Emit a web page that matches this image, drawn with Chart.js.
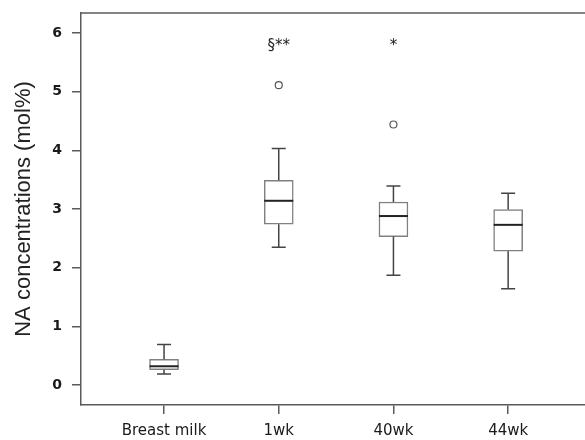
<!DOCTYPE html>
<html>
<head>
<meta charset="utf-8">
<script src="https://cdn.jsdelivr.net/npm/chart.js@4/dist/chart.umd.min.js"></script>
<style>
  html, body { margin: 0; padding: 0; background: #fff; }
  #wrap { width: 585px; height: 440px; }
</style>
</head>
<body>
<div id="wrap"><canvas id="boxChart"></canvas></div>
<script>
// groups along the x axis
const categories = ['Breast milk', '1wk', '40wk', '44wk'];
const catPos = [1, 2, 3, 4];

// box plot summary values (mol%)
const whiskerLow = [0.19, 2.35, 1.87, 1.64];
const q1 = [0.26, 2.74, 2.53, 2.28];
const median = [0.32, 3.14, 2.88, 2.73];
const q3 = [0.44, 3.49, 3.12, 2.99];
const whiskerHigh = [0.69, 4.03, 3.39, 3.27];

// outliers
const outlierPos = [2, 3];
const outlierVal = [5.11, 4.44];

// significance marks above groups
const markText = ['', '§**', '*', ''];
const markVal = 5.78;

const yTicks = [0, 1, 2, 3, 4, 5, 6];

const axisColor = '#5a5a5a';

// draws whiskers, caps, medians and marks using the chart scales
const boxExtras = {
  id: 'boxExtras',
  afterDatasetsDraw(chart) {
    const ctx = chart.ctx;
    const xs = chart.scales.x;
    const ys = chart.scales.y;
    const capHalf = 7;
    const boxHalf = 14.5;
    ctx.save();
    catPos.forEach((p, i) => {
      const cx = xs.getPixelForValue(p);
      ctx.strokeStyle = '#444';
      ctx.lineWidth = 1.5;
      ctx.beginPath();
      ctx.moveTo(cx, ys.getPixelForValue(q3[i]));
      ctx.lineTo(cx, ys.getPixelForValue(whiskerHigh[i]));
      ctx.moveTo(cx, ys.getPixelForValue(q1[i]));
      ctx.lineTo(cx, ys.getPixelForValue(whiskerLow[i]));
      ctx.moveTo(cx - capHalf, ys.getPixelForValue(whiskerHigh[i]));
      ctx.lineTo(cx + capHalf, ys.getPixelForValue(whiskerHigh[i]));
      ctx.moveTo(cx - capHalf, ys.getPixelForValue(whiskerLow[i]));
      ctx.lineTo(cx + capHalf, ys.getPixelForValue(whiskerLow[i]));
      ctx.stroke();

      ctx.strokeStyle = '#222';
      ctx.lineWidth = 2;
      ctx.beginPath();
      ctx.moveTo(cx - boxHalf, ys.getPixelForValue(median[i]));
      ctx.lineTo(cx + boxHalf, ys.getPixelForValue(median[i]));
      ctx.stroke();

      if (markText[i]) {
        ctx.fillStyle = '#222';
        ctx.font = '15px "DejaVu Sans"';
        ctx.textAlign = 'center';
        ctx.textBaseline = 'middle';
        ctx.fillText(markText[i], cx, ys.getPixelForValue(markVal));
      }
    });
    // top frame line
    const a = chart.chartArea;
    ctx.strokeStyle = axisColor;
    ctx.lineWidth = 1.5;
    ctx.beginPath();
    ctx.moveTo(a.left, a.top);
    ctx.lineTo(a.right, a.top);
    ctx.stroke();
    ctx.restore();
  }
};

new Chart(document.getElementById('boxChart'), {
  type: 'bar',
  data: {
    datasets: [{
      label: 'IQR',
      data: catPos.map((p, i) => ({ x: p, y: [q1[i], q3[i]] })),
      backgroundColor: '#ffffff',
      borderColor: '#808080',
      borderWidth: 1.5,
      borderSkipped: false,
      barThickness: 29
    }, {
      type: 'scatter',
      label: 'Outliers',
      data: outlierPos.map((p, i) => ({ x: p, y: outlierVal[i] })),
      backgroundColor: '#ffffff',
      borderColor: '#555',
      borderWidth: 1.2,
      pointRadius: 3.5
    }]
  },
  options: {
    responsive: true,
    maintainAspectRatio: false,
    animation: false,
    layout: { autoPadding: false, padding: { top: 13, right: 0, left: 0, bottom: 0 } },
    plugins: {
      legend: { display: false },
      tooltip: { enabled: false }
    },
    scales: {
      x: {
        type: 'linear',
        offset: false,
        min: 0.276,
        max: 4.67,
        afterBuildTicks: (scale) => { scale.ticks = catPos.map(v => ({ value: v })); },
        afterFit: (scale) => {
          scale.height = 35;
          scale.paddingLeft = 0;
          scale.paddingRight = 0;
        },
        ticks: {
          callback: (v) => categories[catPos.indexOf(v)],
          color: '#1a1a1a',
          font: { family: 'DejaVu Sans', size: 15 },
          padding: 8,
          maxRotation: 0
        },
        grid: { offset: false, drawOnChartArea: false, drawTicks: true, tickLength: 9, color: axisColor, lineWidth: 1.5 },
        border: { display: true, color: axisColor, width: 1.5 }
      },
      y: {
        min: -0.34,
        max: 6.34,
        afterBuildTicks: (scale) => { scale.ticks = yTicks.map(v => ({ value: v })); },
        afterFit: (scale) => {
          scale.width = 81;
          scale.paddingTop = 0;
          scale.paddingBottom = 0;
        },
        ticks: {
          color: '#1a1a1a',
          font: { family: 'DejaVu Sans', size: 14, weight: 'bold' },
          padding: 10
        },
        grid: { drawOnChartArea: false, drawTicks: true, tickLength: 9, color: axisColor, lineWidth: 1.5 },
        border: { display: true, color: axisColor, width: 1.5 },
        title: {
          display: true,
          text: 'NA concentrations (mol%)',
          color: '#222',
          font: { family: 'Liberation Sans', size: 22 },
          padding: { top: 11, bottom: 0 }
        }
      }
    }
  },
  plugins: [boxExtras]
});
</script>
</body>
</html>
